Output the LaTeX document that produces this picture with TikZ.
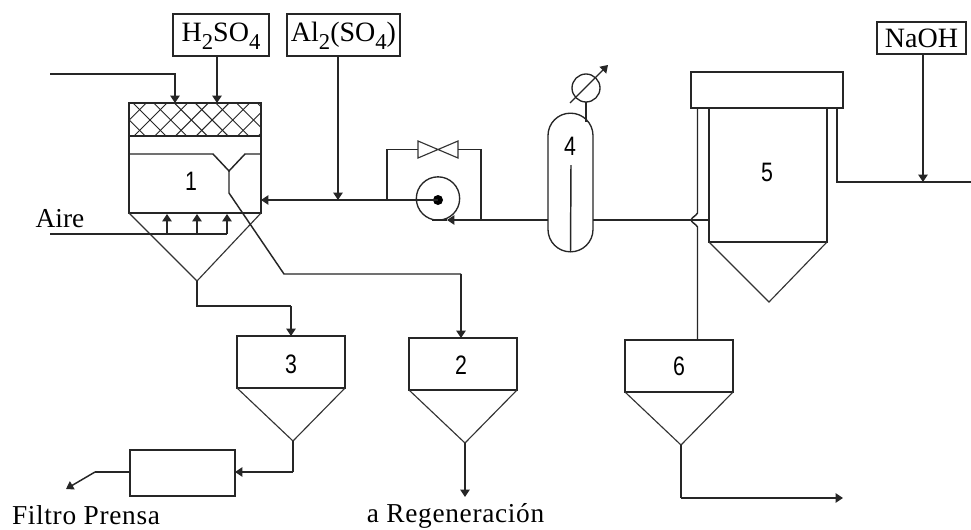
\documentclass[tikz,border=0pt]{standalone}
\usepackage{fontspec}
\setmainfont{Liberation Serif}
\newfontfamily\numfont{Liberation Sans}
\newfontfamily\capfont[LetterSpace=2.5]{Liberation Serif}
\usetikzlibrary{arrows.meta,calc}
\newcommand\lowsub[1]{\raisebox{-6pt}{\fontsize{17}{17}\selectfont #1}}
\tikzset{
  pipe/.style={draw=black!85,line width=1.1pt,line join=miter},
  flow/.style={pipe,-{Triangle[length=5.5pt,width=7pt]}},
  thinline/.style={draw=black!80,line width=.85pt},
  hatchline/.style={draw=black!85,line width=.7pt},
  unit/.style={draw=black!85,line width=1.1pt,inner sep=0pt,outer sep=0pt,fill=none},
  labelbox/.style={unit,font=\fontsize{21}{21}\selectfont,text depth=0pt},
  subbox/.style={labelbox,text depth=4.5pt},
  num/.style={font=\numfont\fontsize{20}{20}\selectfont,xscale=.8,inner sep=0pt},
  caption/.style={font=\fontsize{20.5}{21}\selectfont,inner sep=0pt},
  widecaption/.style={font=\capfont\fontsize{20.5}{21}\selectfont,inner sep=0pt}
}
\begin{document}
\begin{tikzpicture}[x=.75pt,y=-.75pt]
\useasboundingbox (0,0) rectangle (971,529);
\fill[white] (0,0) rectangle (971,529);
% --- reagent boxes
\node[subbox,minimum width=72pt,minimum height=31.5pt] (h2so4) at (221,35) {H\lowsub{2}SO\lowsub{4}};
\node[subbox,minimum width=84.75pt,minimum height=31.5pt] (al2so4) at (343.5,35) {Al\lowsub{2}(SO\lowsub{4})};
\node[labelbox,minimum width=66.75pt,minimum height=24pt] (naoh) at (921.5,38) {NaOH};
% --- tank 1
\node[unit,minimum width=99pt,minimum height=82.5pt] (t1) at (195,158) {};
\coordinate (t1a) at (175,103);
\coordinate (t1b) at (217,103);
\coordinate (t1tip) at (197,281);
\coordinate (t1in) at (261,200);
\begin{scope}
\clip (129,103) rectangle (261,136);
\foreach \k in {-7,...,7}{
  \draw[hatchline] ({150+\k*20.7-30},90) -- ({150+\k*20.7+30},150);
  \draw[hatchline] ({150+\k*20.7+30},90) -- ({150+\k*20.7-30},150);
}
\end{scope}
\draw[pipe] (129,136) -- (261,136);
\coordinate (wl) at (129,154);
\coordinate (wr) at (261,154);
\coordinate (v1) at (213,154);
\coordinate (v2) at (245,154);
\coordinate (vb) at (229,171);
\coordinate (vk) at (229,193);
\draw[pipe] (wl) -- (v1) -- (vb) -- (v2) -- (wr);
\draw[thinline] (t1.south west) -- (t1tip) -- (t1.south east);
\node[num] (n1) at (191,181) {1};
% --- air
\coordinate (airs) at (50,234);
\coordinate (aire) at (227,234);
\coordinate (air1) at (167,234);
\coordinate (air2) at (197,234);
\coordinate (air1t) at (167,214);
\coordinate (air2t) at (197,214);
\coordinate (air3t) at (227,214);
\draw[pipe] (airs) -- (aire);
\draw[flow] (air1) -- (air1t);
\draw[flow] (air2) -- (air2t);
\draw[flow] (aire) -- (air3t);
\node[caption] (airelbl) at (60,219) {Aire};
% --- feeds to tank 1
\coordinate (feeds) at (50,74);
\draw[flow] (feeds) -| (t1a);
\draw[flow] (h2so4.south -| t1b) -- (t1b);
% --- settler 3
\node[unit,minimum width=81pt,minimum height=39pt] (t3) at (291,362) {};
\coordinate (t3tip) at (293,441);
\coordinate (t3in) at (291,336);
\draw[thinline] (t3.south west) -- (t3tip) -- (t3.south east);
\node[num] (n3) at (291,364) {3};
\coordinate (d1) at (197,306);
\draw[pipe] (t1tip) -- (d1) -- (d1 -| t3in);
\draw[flow] (d1 -| t3in) -- (t3in);
% --- settler 2
\node[unit,minimum width=81pt,minimum height=39pt] (t2) at (463,364) {};
\coordinate (t2tip) at (465,443);
\coordinate (t2in) at (461,338);
\coordinate (regen) at (465,497);
\draw[thinline] (t2.south west) -- (t2tip) -- (t2.south east);
\node[num] (n2) at (461,365) {2};
\draw[flow] (t2tip) -- (regen);
\coordinate (k2) at (284,274);
\draw[pipe] (vb) -- (vk) -- (k2) -- (k2 -| t2in);
\draw[flow] (k2 -| t2in) -- (t2in);
% --- filter press
\node[unit,minimum width=78.75pt,minimum height=34.5pt] (fp) at (182.5,473) {};
\coordinate (c3) at (293,472);
\coordinate (fpin) at (235,472);
\coordinate (fpk) at (95,472);
\coordinate (fpout) at (66,489);
\draw[pipe] (t3tip) -- (c3);
\draw[flow] (c3) -- (fpin);
\draw[pipe] (fp.west |- fpk) -- (fpk);
\draw[flow] (fpk) -- (fpout);
\node[widecaption] (fplbl) at (86,515.5) {Filtro Prensa};
\node[widecaption] (reglbl) at (455.5,516) {a Regeneración};
% --- pump and bypass
\node[draw=black!85,line width=1pt,circle,minimum size=32.5pt,inner sep=0pt,outer sep=0pt] (pump) at (438,198.5) {};
\coordinate (pc) at (438,200);
\fill[black] (pc) circle (5);
\coordinate (j1) at (387,200);
\coordinate (j2) at (338,200);
\draw[pipe] (pc) -- (j2);
\draw[flow] (j2) -- (t1in);
\draw[flow] (al2so4.south -| j2) -- (j2);
\coordinate (vc) at (438,149.5);
\coordinate (vl) at (418,149.5);
\coordinate (vr) at (458,149.5);
\draw[pipe] (j1) |- (vl);
\draw[thinline] (vc) -- (418,141) -- (418,158) -- cycle;
\draw[thinline] (vc) -- (458,141) -- (458,158) -- cycle;
\coordinate (j3) at (481,220);
\draw[pipe] (vr) -| (j3);
% --- vessel 4
\node[draw=black!85,line width=1pt,rounded corners=16.8pt,minimum width=33.75pt,minimum height=104pt,inner sep=0pt,outer sep=0pt] (v4) at (570.5,182.5) {};
\node[num] (n4) at (570,146) {4};
\coordinate (v4w) at (v4.west |- j3);
\coordinate (v4e) at (v4.east |- j3);
\coordinate (pt) at (447,220);
\coordinate (pb) at (432,220);
\draw[pipe] (v4w) -- (j3);
\draw[flow] (j3) -- (pt);
\draw[pipe] (pt) -- (pb);
\draw[pipe] (571,165) -- (v4.south);
% --- gauge
\node[draw=black!85,line width=1pt,circle,minimum size=21pt,inner sep=0pt,outer sep=0pt] (gauge) at (586,88) {};
\coordinate (gb) at (586,122);
\draw[pipe] (gauge.south) -- (gb);
\coordinate (ga) at (570,103);
\coordinate (gc) at (608,65);
\draw[flow,line width=.9pt] (ga) -- (gc);
% --- tank 5
\node[unit,minimum width=114pt,minimum height=27pt] (t5top) at (767,90) {};
\coordinate (b1) at (709,108);
\coordinate (b2) at (827,108);
\coordinate (b3) at (827,242);
\coordinate (b4) at (709,242);
\coordinate (t5tip) at (769,302);
\draw[pipe] (b1) -- (b4) -- (b3) -- (b2);
\draw[thinline] (b4) -- (t5tip) -- (b3);
\node[num] (n5) at (767,172) {5};
\coordinate (t5w) at (709,220);
\draw[pipe] (v4e) -- (t5w);
% overflow leg with jump
\node[unit,minimum width=81pt,minimum height=39pt] (t6) at (679,366) {};
\node[num] (n6) at (679,366) {6};
\coordinate (t6tip) at (681,445);
\draw[thinline] (t6.south west) -- (t6tip) -- (t6.south east);
\coordinate (t6top) at (697.5,340);
\coordinate (lt) at (697.5,108);
\coordinate (lj1) at (697.5,213);
\coordinate (ljm) at (691,220);
\coordinate (lj2) at (697.5,227);
\draw[pipe] (lt) -- (lj1) .. controls (696,216) and (692,217) .. (ljm) .. controls (692,223) and (696,224) .. (lj2) -- (t6top);
\coordinate (t6b) at (681,498);
\coordinate (t6e) at (843,498);
\draw[pipe] (t6tip) -- (t6b);
\draw[flow] (t6b) -- (t6e);
% --- right overflow with NaOH
\coordinate (rt) at (837,108);
\coordinate (rb) at (837,182);
\coordinate (rj) at (923,182);
\coordinate (re) at (971,182);
\draw[pipe] (rt) -- (rb) -- (re);
\draw[flow] (naoh.south -| rj) -- (rj);
\end{tikzpicture}
\end{document}
